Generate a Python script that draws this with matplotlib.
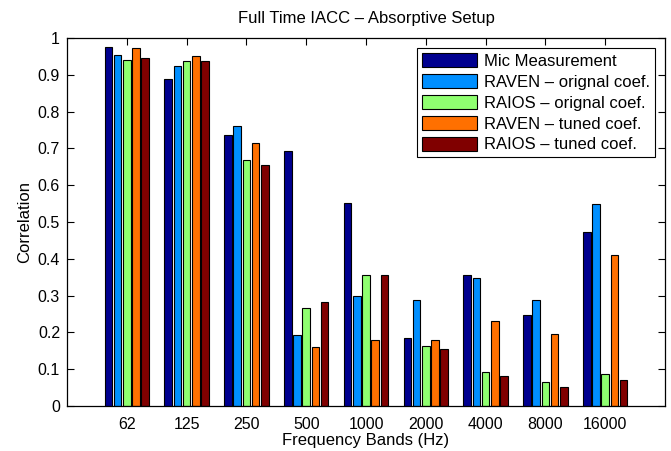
import numpy as np
import matplotlib
matplotlib.use("Agg")
import matplotlib.pyplot as plt

plt.rcParams['font.family'] = ['Liberation Sans', 'DejaVu Sans']

bands = ['62', '125', '250', '500', '1000', '2000', '4000', '8000', '16000']
series_names = ['Mic Measurement', 'RAVEN \u2013 orignal coef.', 'RAIOS \u2013 orignal coef.',
                'RAVEN \u2013 tuned coef.', 'RAIOS \u2013 tuned coef.']

mic = [0.975, 0.889, 0.737, 0.693, 0.551, 0.186, 0.355, 0.246, 0.473]
raven_orig = [0.953, 0.923, 0.760, 0.193, 0.298, 0.289, 0.348, 0.287, 0.548]
raios_orig = [0.941, 0.938, 0.668, 0.267, 0.355, 0.162, 0.092, 0.065, 0.086]
raven_tuned = [0.972, 0.950, 0.714, 0.160, 0.180, 0.180, 0.232, 0.196, 0.410]
raios_tuned = [0.945, 0.936, 0.656, 0.282, 0.355, 0.155, 0.081, 0.052, 0.071]

colors = ['#00008f', '#008fff', '#8fff70', '#ff7000', '#800000']

fig = plt.figure(figsize=(6.71, 4.51), dpi=100)
ax = fig.add_axes([0.0999, 0.0998, 0.8912, 0.8162])

x = np.arange(1, len(bands) + 1)
step = 0.154
width = 0.128
data = [mic, raven_orig, raios_orig, raven_tuned, raios_tuned]
for i, (vals, name, c) in enumerate(zip(data, series_names, colors)):
    ax.bar(x + (i - 2) * step, vals, width, color=c, edgecolor='black',
           linewidth=0.8, label=name, zorder=2)

ax.set_xlim(0, 10)
ax.set_ylim(0, 1)
ax.set_xticks(x)
ax.set_xticklabels(bands)
ax.set_yticks(np.arange(0, 1.01, 0.1))
ax.set_yticklabels(['0', '0.1', '0.2', '0.3', '0.4', '0.5', '0.6', '0.7', '0.8', '0.9', '1'])
ax.tick_params(direction='in', top=True, right=True, labelsize=11.5, length=5, width=0.8)
ax.tick_params(axis='x', pad=8)
ax.tick_params(axis='y', pad=5)
for s in ax.spines.values():
    s.set_linewidth(0.9)

ax.set_title('Full Time IACC \u2013 Absorptive Setup', fontsize=12, pad=10.5)
ax.set_xlabel('Frequency Bands (Hz)', fontsize=12, labelpad=1)
ax.set_ylabel('Correlation', fontsize=12, labelpad=4)

leg = ax.legend(loc='upper right', fontsize=12, fancybox=False, framealpha=1,
                edgecolor='black', handlelength=3.3, handleheight=0.95,
                labelspacing=0.3, borderpad=0.3, handletextpad=0.4,
                borderaxespad=0.6)
leg.get_frame().set_linewidth(0.8)

fig.savefig('out.png', dpi=100)
